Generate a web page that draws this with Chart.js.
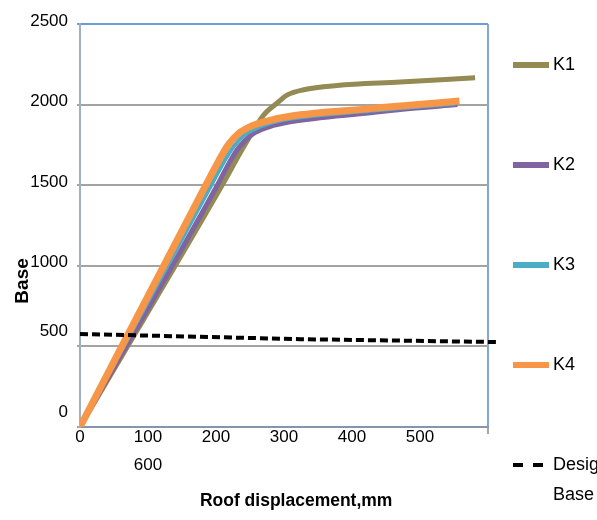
<!DOCTYPE html>
<html>
<head>
<meta charset="utf-8">
<script src="https://cdn.jsdelivr.net/npm/chart.js@4"></script>
<style>
  html, body { margin: 0; padding: 0; background: #fff; overflow: hidden; }
</style>
</head>
<body>
<canvas id="pushover-chart" width="597" height="520"></canvas>
<script>
// Pushover curves: base shear vs roof displacement (mm)
const k1Disp  = [0, 209, 241, 270, 290, 305, 329, 378, 471, 581];
const k1Shear = [0, 1500, 1740, 1935, 2010, 2060, 2092, 2118, 2140, 2167];

const k2Disp  = [0, 202, 219, 233, 253, 278, 309, 427, 471, 555];
const k2Shear = [0, 1500, 1635, 1730, 1815, 1862, 1893, 1950, 1970, 2000];

const k3Disp  = [0, 193, 211, 226, 243, 263, 287, 309, 427, 471, 552];
const k3Shear = [0, 1500, 1640, 1740, 1815, 1860, 1893, 1912, 1962, 1978, 2005];

const k4Disp  = [0, 185, 204, 218, 233, 251, 275, 309, 427, 471, 558];
const k4Shear = [0, 1500, 1650, 1750, 1820, 1865, 1898, 1928, 1975, 1992, 2022];

// design base shear (dashed)
const designDisp  = [0, 324, 612];
const designShear = [577, 545, 527];

const xTicks = [0, 100, 200, 300, 400, 500, 600];
const xTickLabels = ["0", ["100", "600"], "200", "300", "400", "500", ""];
const yTicks = [0, 500, 1000, 1500, 2000, 2500];
const yTickLabels = [["0", ""], ["500", ""], "1000", "1500", "2000", "2500"];
const legendLabels = ["K1", "K2", "K3", "K4", ["Design", "Base Shear"]];

const sans = "'Liberation Sans', Arial, sans-serif";

function pts(xs, ys) {
    return xs.map((x, i) => ({ x: x, y: ys[i] }));
}

// legend on the right, one item roughly every 100px like the original
const sideLegend = {
    id: "sideLegend",
    afterDraw(chart) {
        const ctx = chart.ctx;
        const x0 = chart.chartArea.right + 25;
        chart.data.datasets.forEach((ds, i) => {
            const y = chart.chartArea.top + 41 + i * 100;
            ctx.save();
            ctx.strokeStyle = ds.borderColor;
            ctx.lineWidth = ds.borderDash ? 4 : 6;
            ctx.setLineDash(ds.borderDash ? [10, 10] : []);
            ctx.beginPath();
            ctx.moveTo(x0, y);
            ctx.lineTo(x0 + (ds.borderDash ? 30 : 36), y);
            ctx.stroke();
            ctx.fillStyle = "#000";
            ctx.font = "18px " + sans;
            ctx.textBaseline = "middle";
            [].concat(legendLabels[i]).forEach((t, j) => ctx.fillText(t, x0 + 40, y + j * 30));
            ctx.restore();
        });
    }
};

const dataObj = {
    datasets: [
        { label: "K1", data: pts(k1Disp, k1Shear), borderColor: "#948a54", borderWidth: 5, order: 5 },
        { label: "K2", data: pts(k2Disp, k2Shear), borderColor: "#8064a2", borderWidth: 5, order: 4 },
        { label: "K3", data: pts(k3Disp, k3Shear), borderColor: "#4bacc6", borderWidth: 4, order: 3 },
        { label: "K4", data: pts(k4Disp, k4Shear), borderColor: "#f79646", borderWidth: 7, order: 2 },
        { label: "Design Base Shear", data: pts(designDisp, designShear), borderColor: "#000",
          borderWidth: 4, borderDash: [8, 4], cubicInterpolationMode: "default", tension: 0, clip: false, order: 1 }
    ]
};

new Chart("pushover-chart", {
    type: "line",
    data: dataObj,
    plugins: [sideLegend],
    options: {
        responsive: false,
        animation: false,
        layout: { padding: { left: 0, top: 24, right: 109, bottom: 0 } },
        elements: {
            point: { radius: 0 },
            line: { cubicInterpolationMode: "monotone", fill: false, borderCapStyle: "butt" }
        },
        plugins: { legend: { display: false }, tooltip: { enabled: false } },
        scales: {
            x: {
                type: "linear", min: 0, max: 600,
                afterBuildTicks: sc => { sc.ticks = xTicks.map(v => ({ value: v })); },
                afterFit: sc => { sc.height = 93; },
                ticks: {
                    callback: (v, i) => xTickLabels[i],
                    autoSkip: false, maxRotation: 0, padding: -11, color: "#000",
                    font: { family: sans, size: 17, lineHeight: "28px" }
                },
                grid: {
                    color: c => c.tick && c.tick.value === 600 ? "#7fa7d9" : "rgba(0,0,0,0)",
                    tickColor: c => c.tick && c.tick.value === 600 ? "#a6a6a6" : "rgba(0,0,0,0)",
                    lineWidth: 2, tickLength: 7
                },
                border: { color: "#8595ab", width: 2 },
                title: {
                    display: true, text: "     Roof displacement,mm", color: "#000",
                    font: { family: sans, size: 17.5, weight: "bold" },
                    padding: { top: 0, bottom: 8 }
                }
            },
            y: {
                min: 0, max: 2500,
                afterBuildTicks: sc => { sc.ticks = yTicks.map(v => ({ value: v })); },
                afterFit: sc => { sc.width = 80; },
                ticks: {
                    callback: (v, i) => yTickLabels[i],
                    padding: 9, labelOffset: -3, color: "#000",
                    font: { family: sans, size: 17, lineHeight: "24px" }
                },
                grid: {
                    color: c => c.tick && c.tick.value === 2500 ? "#6f9bd4" : "#a3a3a3",
                    lineWidth: 2, tickLength: 3
                },
                border: { color: "#9eb0c9", width: 2 },
                title: {
                    display: true, text: "Base" + " ".repeat(21), color: "#000",
                    font: { family: sans, size: 19, weight: "bold" },
                    padding: { top: 11, bottom: 0 }
                }
            }
        }
    }
});
</script>
</body>
</html>
